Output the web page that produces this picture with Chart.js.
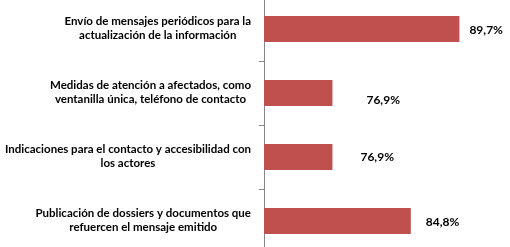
<!DOCTYPE html>
<html><head><meta charset="utf-8">
<script src="https://cdn.jsdelivr.net/npm/chart.js@4"></script>
<style>
html,body{margin:0;padding:0;background:#fff;overflow:hidden;width:510px;height:247px}
#wrap{position:absolute;left:0;top:-3px;width:510px;height:256px}
</style>
</head><body><div id="wrap"><canvas id="c"></canvas></div>
<script>
const categories = [
  ["Envío de mensajes periódicos para la", "actualización de la información"],
  ["Medidas de atención a afectados, como", "ventanilla única, teléfono de contacto"],
  ["Indicaciones para el contacto y accesibilidad con", "los actores"],
  ["Publicación de dossiers y documentos que", "refuercen el mensaje emitido"]
];
const values = [89.7, 76.9, 76.9, 84.8];
const valueLabels = ["89,7%", "76,9%", "76,9%", "84,8%"];
const axisMin = 70;
const axisMax = 94.8;

const catFont = 'bold 11.5px Lato';
const valFont = 'bold 12px Lato';
const labelNudge = [[10, 1], [34, 7], [28, 0], [15, 1]];

const drawLabels = {
  id: 'drawLabels',
  afterDraw(chart) {
    const ctx = chart.ctx;
    const ys = chart.scales.y;
    const meta = chart.getDatasetMeta(0);
    ctx.save();
    ctx.fillStyle = '#000';
    ctx.textBaseline = 'middle';
    ctx.font = catFont;
    const blockRight = 251;
    const lh = 14;
    categories.forEach((lines, i) => {
      const cy = ys.getPixelForValue(i) - 1;
      const widths = lines.map(l => ctx.measureText(l).width);
      const bw = Math.max(...widths);
      const cx = Math.max(blockRight - bw / 2, bw / 2 + 1);
      ctx.textAlign = 'center';
      lines.forEach((l, j) => {
        ctx.fillText(l, cx, cy + (j - (lines.length - 1) / 2) * lh);
      });
    });
    ctx.font = valFont;
    ctx.textAlign = 'left';
    meta.data.forEach((bar, i) => {
      ctx.fillText(valueLabels[i], bar.x + labelNudge[i][0], bar.y + labelNudge[i][1]);
    });
    ctx.restore();
  }
};

new Chart(document.getElementById('c'), {
  type: 'bar',
  data: {
    labels: categories,
    datasets: [{
      data: values,
      backgroundColor: '#C0504D',
      borderWidth: 0,
      barPercentage: 0.41,
      categoryPercentage: 1
    }]
  },
  options: {
    indexAxis: 'y',
    responsive: true,
    maintainAspectRatio: false,
    animation: false,
    layout: { padding: 0 },
    plugins: { legend: { display: false }, tooltip: { enabled: false } },
    scales: {
      x: { display: false, min: axisMin, max: axisMax },
      y: {
        grid: { display: true, drawOnChartArea: false, drawTicks: true, tickLength: 5, color: '#868686', offset: true },
        border: { display: true, color: '#868686', width: 1 },
        ticks: { display: false },
        afterFit(s) { s.width = 264; }
      }
    }
  },
  plugins: [drawLabels]
});
</script>
</body></html>
